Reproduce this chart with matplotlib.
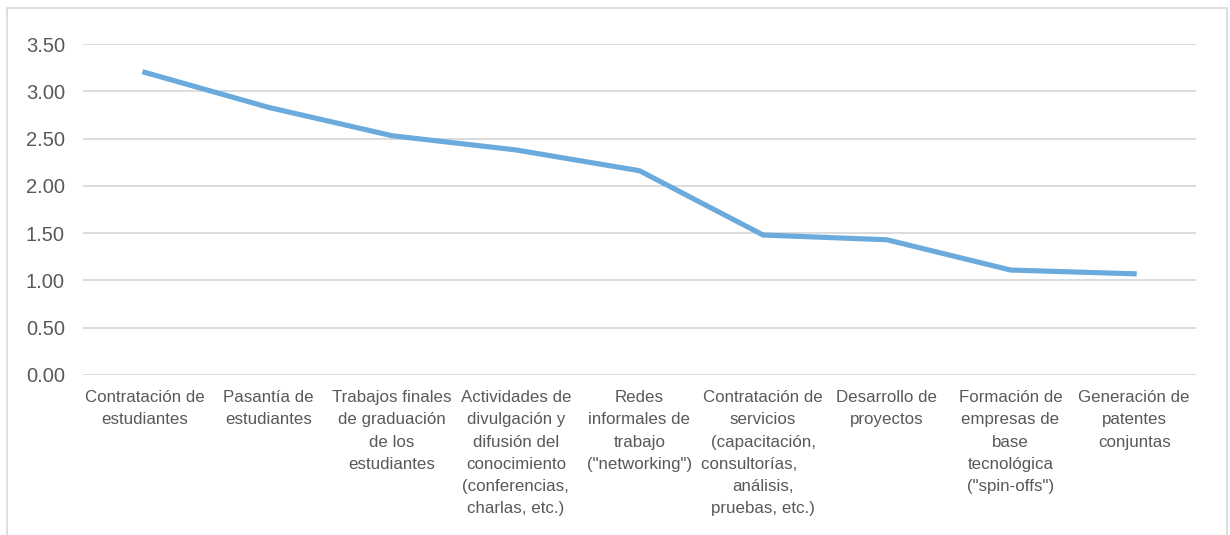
import matplotlib.pyplot as plt
from matplotlib.patches import Rectangle

plt.rcParams['font.family'] = ['Liberation Sans', 'DejaVu Sans']

# categories and average scores
categorias = [
    "Contratación de\nestudiantes",
    "Pasantía de\nestudiantes",
    "Trabajos finales\nde graduación\nde los\nestudiantes",
    "Actividades de\ndivulgación y\ndifusión del\nconocimiento\n(conferencias,\ncharlas, etc.)",
    "Redes\ninformales de\ntrabajo\n(\"networking\")",
    "Contratación de\nservicios\n(capacitación,\nconsultorías,      \nanálisis,\npruebas, etc.)",
    "Desarrollo de\nproyectos",
    "Formación de\nempresas de\nbase\ntecnológica\n(\"spin-offs\")",
    "Generación de\npatentes\nconjuntas",
]
promedios = [3.20, 2.83, 2.53, 2.38, 2.16, 1.48, 1.43, 1.11, 1.07]
yticks = [0.0, 0.5, 1.0, 1.5, 2.0, 2.5, 3.0, 3.5]

W, H = 1230, 535
fig = plt.figure(figsize=(W / 100, H / 100), dpi=100)
ax = fig.add_axes([83 / W, 1 - 375 / H, (1196 - 83) / W, (375 - 44) / H])

# outer chart frame
fig.patches.append(Rectangle((7 / W, -0.05), (1227 - 7) / W, 1.05 - 8 / H,
                             transform=fig.transFigure, fill=False,
                             edgecolor='#d9d9d9', linewidth=1.2))

x = list(range(len(categorias)))
ax.plot(x, promedios, color='#6aaadc', linewidth=3.7, solid_joinstyle='miter')

ax.set_xlim(-0.5, len(categorias) - 0.5)
ax.set_ylim(0, 3.5)
ax.set_yticks(yticks)
ax.set_yticklabels([f"{v:.2f}" for v in yticks])
ax.set_xticks(x)
ax.set_xticklabels(categorias, linespacing=1.6)

ax.grid(axis='y', color='#d9d9d9', linewidth=1.3)
ax.set_axisbelow(True)
for s in ax.spines.values():
    s.set_visible(False)
ax.tick_params(axis='y', length=0, pad=13, labelsize=14.5, labelcolor='#595959')
ax.tick_params(axis='x', length=0, pad=11, labelsize=12.2, labelcolor='#595959')

fig.savefig('out.png', dpi=100, facecolor='white')
